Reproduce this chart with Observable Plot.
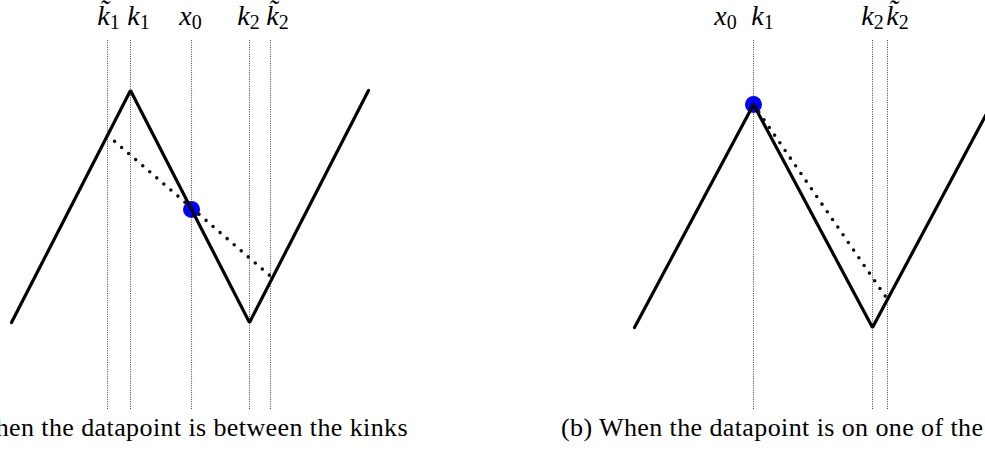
<!DOCTYPE html>
<html>
<head>
<meta charset="utf-8">
<script src="https://cdn.jsdelivr.net/npm/d3@7"></script>
<script src="https://cdn.jsdelivr.net/npm/@observablehq/plot@0.6"></script>
<style>
  body { margin: 0; background: #fff; }
  #wrap { position: relative; width: 985px; height: 457px; overflow: hidden; background: #fff; }
  .panel { position: absolute; top: 0; }
  .cap { position: absolute; top: 415px; font-family: "Liberation Serif", serif; font-size: 26px; line-height: 26px; letter-spacing: 0.4px; white-space: nowrap; color: #000; }
</style>
</head>
<body>
<div id="wrap">
  <div id="panelA" class="panel" style="left:0px"></div>
  <div id="panelB" class="panel" style="left:492px"></div>
  <div id="capA" class="cap" style="right:577px; text-align:right;"></div>
  <div id="capB" class="cap" style="left:561px;"></div>
</div>
<script>
// ---------- shared zigzag (piecewise linear with two kinks) ----------
const zigX = [0, 1, 2, 3];
const zigY = [0, 1, 0, 1];

// ---------- panel (a): datapoint between the kinks ----------
const aGuideX = [0.807, 1, 1.513, 2, 2.176];          // k~1, k1, x0, k2, k~2
const aPointX = [1.513];
const aPointY = [0.487];
const aChordX = [0.807, 2.176];
const aChordY = [0.807, 0.2];
const aLabelName  = ["k", "k", "x", "k", "k"];
const aLabelSub   = ["1", "1", "0", "2", "2"];
const aLabelTilde = [true, false, false, false, true];
const aLabelX     = [0.815, 1.067, 1.504, 1.992, 2.235];
const aCaption = "(a) When the datapoint is between the kinks";

// ---------- panel (b): datapoint on one of the kinks ----------
const bGuideX = [1, 2, 2.126];                         // k1 (= x0), k2, k~2
const bPointX = [1];
const bPointY = [1];
const bChordX = [1, 2.126];
const bChordY = [1, 0.126];
const bLabelName  = ["x", "k", "k", "k"];
const bLabelSub   = ["0", "1", "2", "2"];
const bLabelTilde = [false, false, false, true];
const bLabelX     = [0.765, 1.076, 2.0, 2.21];
const bCaption = "(b) When the datapoint is on one of the kinks";

function panel(o) {
  const zig = zigX.map((x, i) => ({x, y: zigY[i]}));
  const chord = o.chordX.map((x, i) => ({x, y: o.chordY[i]}));
  const pts = o.pointX.map((x, i) => ({x, y: o.pointY[i]}));
  const labels = o.labelX.map((x, i) => ({x, name: o.name[i], sub: o.sub[i], tilde: o.tilde[i]}));
  const svg = Plot.plot({
    width: 493,
    height: 415,
    marginTop: 40,
    marginBottom: 6,
    marginLeft: 0,
    marginRight: 0,
    x: {domain: [0, 3], range: o.xRange, axis: null},
    y: {domain: [0, 1], range: o.yRange, axis: null},
    marks: [
      Plot.ruleX(o.guideX, {stroke: "#444", strokeWidth: 1, strokeDasharray: "1,1.3"}),
      Plot.dot(pts, {x: "x", y: "y", r: 8.5, fill: "#0000ff", stroke: "none"}),
      Plot.line(zig, {x: "x", y: "y", stroke: "#000", strokeWidth: 3.2, strokeLinejoin: "miter"}),
      Plot.line(chord, {x: "x", y: "y", stroke: "#111", strokeWidth: 3.6, strokeDasharray: "0,9.3", strokeLinecap: "round"}),
      Plot.text(labels, {x: "x", text: "name", frameAnchor: "top", dy: -16, lineAnchor: "bottom",
        fontSize: 28, fontFamily: "Liberation Serif", fontStyle: "italic", fill: "#000"})
    ]
  });
  // math-style labels: italic letter (+ tilde) with upright subscript digit
  d3.select(svg).selectAll('g[aria-label="text"] text').each(function(_, j) {
    const d = labels[j];
    const t = d3.select(this);
    t.text(null);
    t.append("tspan").text(d.name + (d.tilde ? "\u0303" : ""));
    t.append("tspan").attr("font-style", "normal").attr("font-size", 20).attr("dy", "0.22em").text(d.sub);
  });
  return svg;
}

document.getElementById("panelA").appendChild(panel({
  guideX: aGuideX, pointX: aPointX, pointY: aPointY, chordX: aChordX, chordY: aChordY,
  name: aLabelName, sub: aLabelSub, tilde: aLabelTilde, labelX: aLabelX,
  xRange: [11, 368], yRange: [322, 90]
}));
document.getElementById("panelB").appendChild(panel({
  guideX: bGuideX, pointX: bPointX, pointY: bPointY, chordX: bChordX, chordY: bChordY,
  name: bLabelName, sub: bLabelSub, tilde: bLabelTilde, labelX: bLabelX,
  xRange: [142, 499], yRange: [327, 104]
}));
document.getElementById("capA").textContent = aCaption;
document.getElementById("capB").textContent = bCaption;
</script>
</body>
</html>
